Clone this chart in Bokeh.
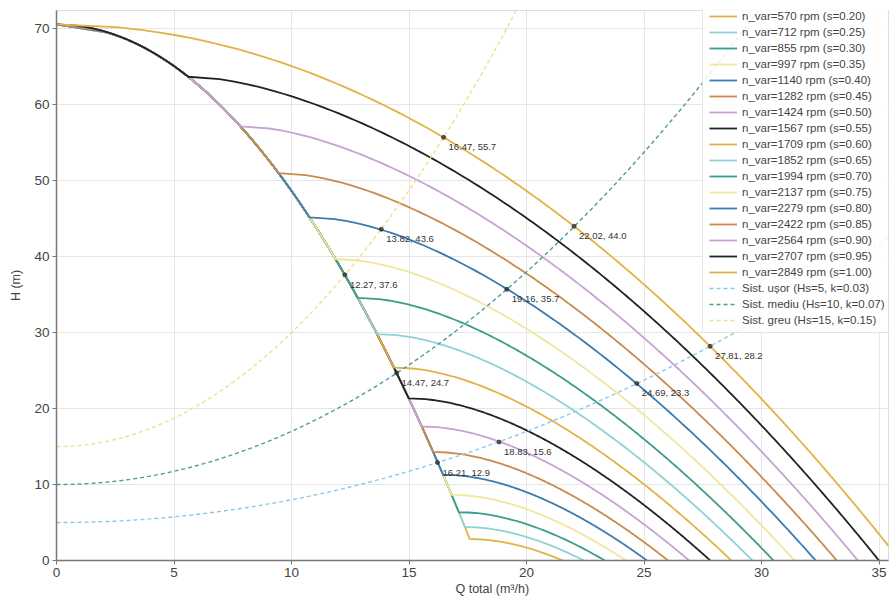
import numpy as np
from bokeh.plotting import figure
from bokeh.models import Range1d, Legend, LegendItem, Title, ColumnDataSource
from bokeh.embed import file_html
from bokeh.resources import INLINE

# ---- data ----
H0 = 70.56          # shut-off head of one pump (m)
A_COEF = 0.2191     # pump curve coefficient  H = H0 - a*Q^2
speed_ratio = [0.20, 0.25, 0.30, 0.35, 0.40, 0.45, 0.50, 0.55, 0.60,
               0.65, 0.70, 0.75, 0.80, 0.85, 0.90, 0.95, 1.00]
rpm = [570, 712, 855, 997, 1140, 1282, 1424, 1567, 1709,
       1852, 1994, 2137, 2279, 2422, 2564, 2707, 2849]
sys_names = ["Sist. ușor", "Sist. mediu", "Sist. greu"]
sys_Hs = [5, 10, 15]
sys_k = [0.03, 0.07, 0.15]
pt_Q = [16.47, 22.02, 27.81, 13.82, 19.16, 24.69, 12.27, 14.47, 18.83, 16.21]
pt_H = [55.7, 44.0, 28.2, 43.6, 35.7, 23.3, 37.6, 24.7, 15.6, 12.9]

palette = ["#E2B246", "#8FD2D4", "#3E9C8C", "#F1E79C",
           "#3A7BB0", "#C98A4E", "#C8A2D2", "#222222"]
sys_colors = ["#8DC8E6", "#4D9D96", "#EBE38A"]

p = figure(width=890, height=601, x_range=Range1d(0, 35.4), y_range=Range1d(0, 72.4),
           output_backend="svg", toolbar_location=None,
           min_border_left=56, min_border_right=2, min_border_top=10, min_border_bottom=41)

items = []
for i, (s, n) in enumerate(zip(speed_ratio, rpm)):
    hs = s * s * H0
    H_fixed = np.linspace(H0, hs, 60)
    Q_fixed = np.sqrt(np.clip((H0 - H_fixed) / A_COEF, 0, None))
    H_comb = np.linspace(hs, 0, 200)
    Q_comb = np.sqrt((H0 - H_comb) / A_COEF) + np.sqrt(np.clip((hs - H_comb) / A_COEF, 0, None))
    Q = np.concatenate([Q_fixed, Q_comb])
    H = np.concatenate([H_fixed, H_comb])
    r = p.line(Q, H, line_color=palette[i % 8], line_width=1.8)
    items.append(LegendItem(label=f"n_var={n} rpm (s={s:.2f})", renderers=[r]))

Qs = np.linspace(0, 36, 300)
for name, hs0, k, c in zip(sys_names, sys_Hs, sys_k, sys_colors):
    r = p.line(Qs, hs0 + k * Qs ** 2, line_color=c, line_width=1.4, line_dash="4 3")
    items.append(LegendItem(label=f"{name} (Hs={hs0}, k={k})", renderers=[r]))

src = ColumnDataSource(dict(q=pt_Q, h=pt_H, t=[f"{q:.2f}, {h:.1f}" for q, h in zip(pt_Q, pt_H)]))
p.scatter("q", "h", source=src, size=4, color="#333333", alpha=0.8)
p.text("q", "h", text="t", source=src, x_offset=5, y_offset=4, text_baseline="top",
       text_font_size="9.5px", text_color="#333333")

legend = Legend(items=items, location=(646, 227))
legend.label_text_font_size = "11.5px"
legend.label_text_color = "#444444"
legend.glyph_width = 28
legend.glyph_height = 10
legend.label_height = 13
legend.spacing = 3
legend.padding = 6
legend.margin = 0
legend.border_line_color = "#cccccc"
legend.background_fill_alpha = 0.85
p.add_layout(legend)

p.xaxis.ticker = [0, 5, 10, 15, 20, 25, 30, 35]
p.yaxis.ticker = [0, 10, 20, 30, 40, 50, 60, 70]
for ax in (p.xaxis, p.yaxis):
    ax.major_label_text_font_size = "13.5px"
    ax.major_label_text_color = "#444444"
    ax.axis_line_color = "#777777"
    ax.axis_line_width = 1.5
    ax.major_tick_line_color = "#777777"
    ax.major_tick_out = 4
    ax.major_tick_in = 0
    ax.minor_tick_line_color = None
    ax.major_label_standoff = 3
p.yaxis.axis_label = "H (m)"
p.yaxis.axis_label_text_font_size = "12.5px"
p.yaxis.axis_label_text_font_style = "normal"
p.yaxis.axis_label_text_color = "#444444"
p.yaxis.axis_label_standoff = 8
p.add_layout(Title(text="Q total (m³/h)", align="left", offset=399, text_font_size="12.5px",
                   text_font_style="normal", text_color="#444444", standoff=0), "below")
p.xgrid.grid_line_color = "#e6e6e6"
p.ygrid.grid_line_color = "#e6e6e6"
p.outline_line_color = "#dddddd"

open("out.html", "w").write(file_html(p, INLINE))
